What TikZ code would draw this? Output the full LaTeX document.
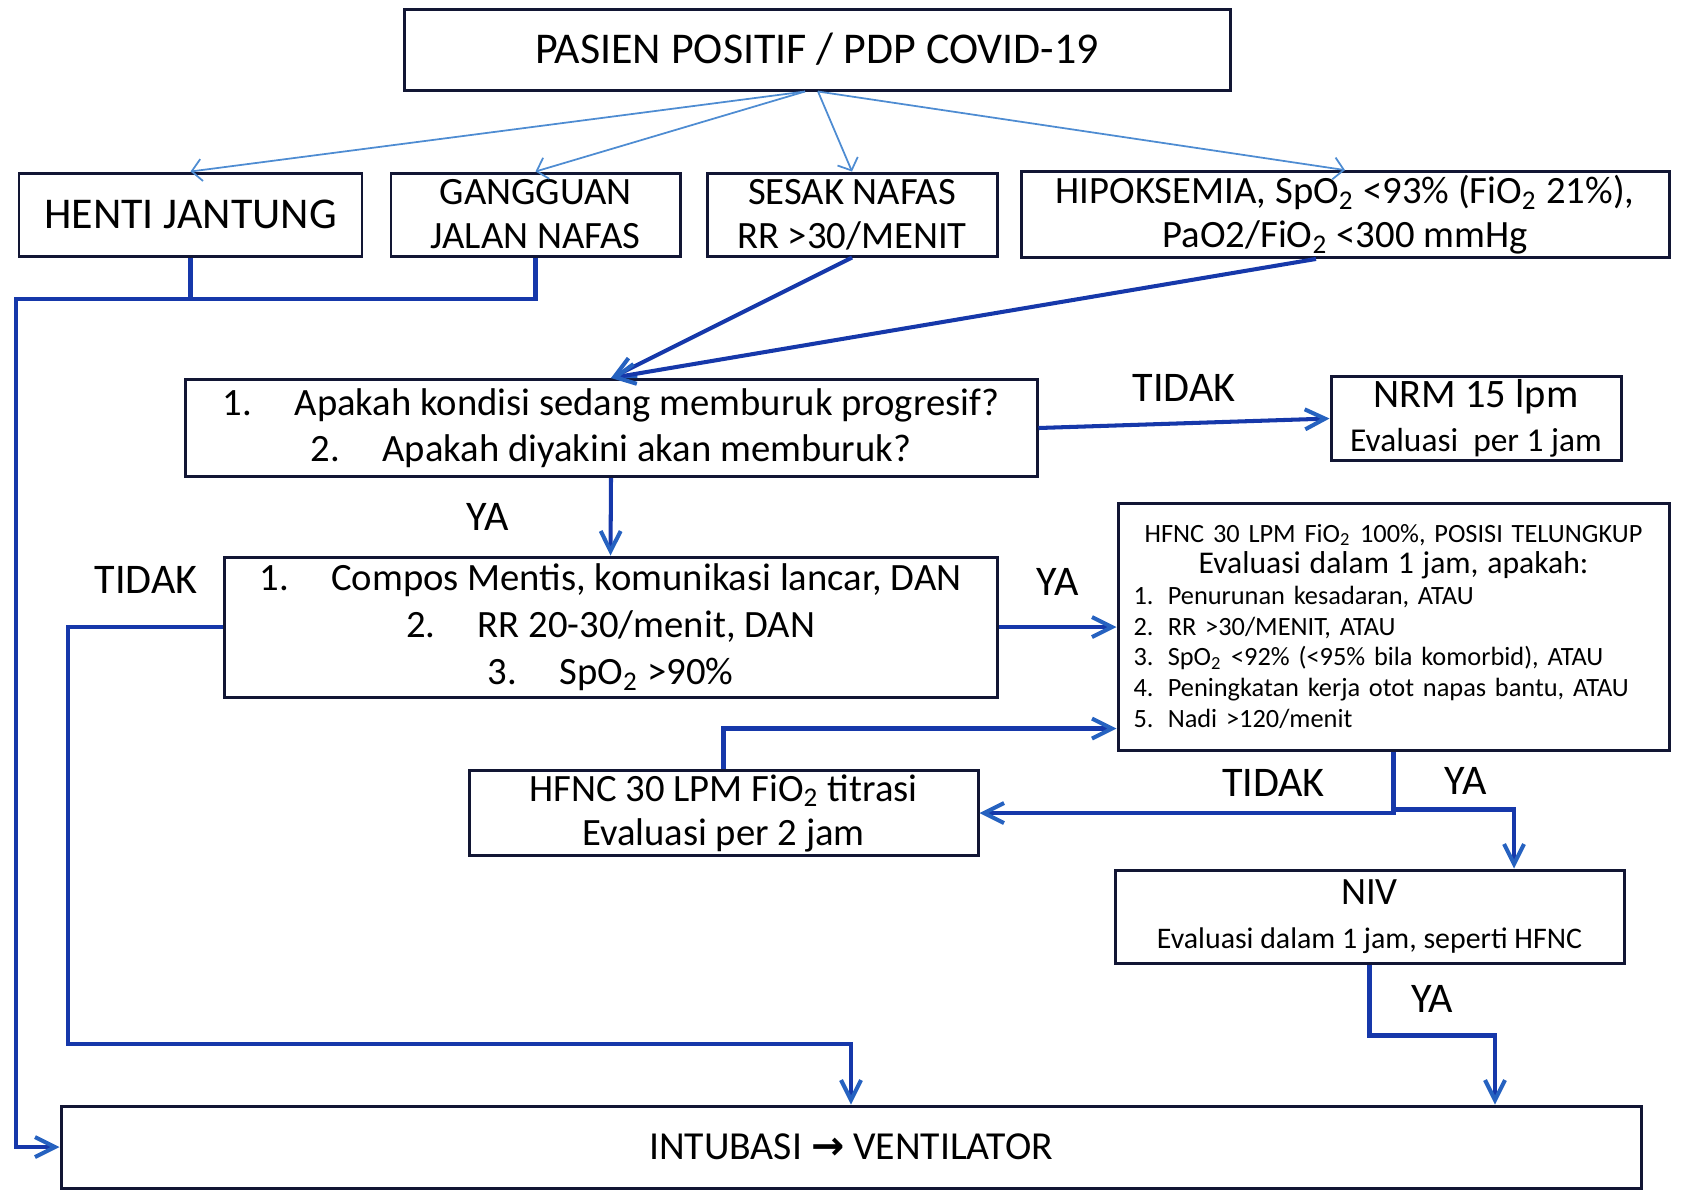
\documentclass[tikz,border=0pt]{standalone}
\usepackage{fontspec}
\setmainfont{Carlito}
\newfontfamily\arrowfont{DejaVu Sans}
\usetikzlibrary{positioning, arrows.meta}
\definecolor{flowblue}{RGB}{22,56,170}
\definecolor{tipblue}{RGB}{38,98,192}
\definecolor{fanblue}{RGB}{78,140,210}
\definecolor{boxline}{RGB}{18,22,52}
\tikzset{
  box/.style={
    rectangle,
    draw=boxline, line width=0.85pt,
    align=center, inner sep=1pt,
    font=\fontsize{11}{12.5}\selectfont
  },
  flow/.style={draw=flowblue, line width=1.15pt},
  fan/.style={draw=fanblue, line width=0.5pt, -{Straight Barb[length=1mm,width=2.2mm]}},
  lbl/.style={inner sep=0pt, font=\fontsize{12}{14}\selectfont}
}
\newcommand{\numgap}[1]{#1\hspace{1.1em}}
\newcommand{\hitem}[1]{\makebox[1.3em][l]{#1}}

\begin{document}
\begin{tikzpicture}[x=0.1mm, y=-0.1mm, >={Straight Barb[length=2mm,width=2mm,color=tipblue]}]
  \useasboundingbox (0,0) rectangle (1684,1190);

  \node[box, minimum width=82.6mm, minimum height=8.1mm, font=\fontsize{12.5}{14}\selectfont] (pasien) at (817,49.5) {PASIEN POSITIF / PDP COVID-19};

  \node[box, minimum width=34.3mm, minimum height=8.3mm, font=\fontsize{12.5}{14}\selectfont] (henti) at (190.5,214.5) {HENTI JANTUNG};
  \node[box, minimum width=28.9mm, minimum height=8.3mm] (gangguan) at (535.5,214.5) {GANGGUAN\\JALAN NAFAS};
  \node[box, minimum width=29mm, minimum height=8.3mm] (sesak) at (852,214.5) {SESAK NAFAS\\RR >30/MENIT};
  \node[box, minimum width=64.8mm, minimum height=8.3mm] (hipo) at (1345,214.5)
    {HIPOKSEMIA, SpO\textsubscript{2} <93\% (FiO\textsubscript{2} 21\%),\\PaO2/FiO\textsubscript{2} <300 mmHg};

  \node[box, minimum width=85.2mm, minimum height=9.7mm, font=\fontsize{11}{13}\selectfont] (apakah) at (611,428)
    {\numgap{1.}Apakah kondisi sedang memburuk progresif?\\\numgap{2.}Apakah diyakini akan memburuk?};
  \node[box, minimum width=29mm, minimum height=8.3mm] (nrm) at (1476,418.5)
    {{\fontsize{11.5}{12.5}\selectfont NRM 15 lpm}\\{\fontsize{9.5}{11}\selectfont Evaluasi\ \ per 1 jam}};

  \node[box, minimum width=77.3mm, minimum height=14mm, font=\fontsize{11}{13.4}\selectfont] (compos) at (610.5,627)
    {\numgap{1.}Compos Mentis, komunikasi lancar, DAN\\\numgap{2.}RR 20-30/menit, DAN\\\numgap{3.}SpO\textsubscript{2} >90\%};

  \node[box, minimum width=55.1mm, minimum height=24.7mm, text width=52mm, align=left,
        font=\fontsize{7.5}{8.8}\selectfont] (hfnc) at (1393.5,626.5) {%
    \centering HFNC 30 LPM FiO\textsubscript{2} 100\%, POSISI TELUNGKUP\\
    {\fontsize{9}{10.5}\selectfont Evaluasi dalam 1 jam, apakah:}\par
    \raggedright
    \hitem{1.}Penurunan kesadaran, ATAU\\
    \hitem{2.}RR >30/MENIT, ATAU\\
    \hitem{3.}SpO\textsubscript{2} <92\% (<95\% bila komorbid), ATAU\\
    \hitem{4.}Peningkatan kerja otot napas bantu, ATAU\\
    \hitem{5.}Nadi >120/menit};

  \node[box, minimum width=50.9mm, minimum height=8.4mm] (titrasi) at (723.5,813)
    {HFNC 30 LPM FiO\textsubscript{2} titrasi\\Evaluasi per 2 jam};
  \node[box, minimum width=50.9mm, minimum height=9.3mm] (niv) at (1369.5,916.5)
    {NIV\\{\fontsize{8.5}{10}\selectfont Evaluasi dalam 1 jam, seperti HFNC}};

  \node[box, minimum width=158mm, minimum height=8.2mm, font=\fontsize{11.3}{13}\selectfont] (intubasi) at (851,1147)
    {INTUBASI {\arrowfont\bfseries →} VENTILATOR};

  \coordinate (rail) at (16,299);

  \draw[fan] ([xshift=-1.2mm]pasien.south) -- (henti.north);
  \draw[fan] ([xshift=-1.2mm]pasien.south) -- (gangguan.north);
  \draw[fan] ([xshift=0.1mm]pasien.south) -- (sesak.north);
  \draw[fan] ([xshift=0.1mm]pasien.south) -- (hipo.north);

  \draw[flow] (henti.south) -- (henti.south |- rail);
  \draw[flow,->] (gangguan.south) |- (rail) |- (intubasi.west);
  \draw[flow,->] (sesak.south) -- (apakah.north);
  \draw[flow,->] ([xshift=-2.9mm]hipo.south) -- (apakah.north);

  \draw[flow,->] (apakah.east) -- node[lbl, above=2mm] (tidakA) {TIDAK} (nrm.west);
  \draw[flow,->] (apakah.south) -- node[lbl, left=10mm] (yaA) {YA} (compos.north);

  \node[lbl] (tidakB) at (146,580) {TIDAK};
  \draw[flow,->] (compos.west) -| (68,1044) -| (intubasi.north);
  \draw[flow,->] (compos.east) -- node[lbl, above=3mm] (yaB) {YA} (compos.east -| hfnc.west);

  \draw[flow,->] (titrasi.north) |- ([yshift=2.3mm]hfnc.south west);
  \draw[flow,->] (hfnc.south) |- node[lbl, pos=0.645, above=1.5mm] (tidakC) {TIDAK} (titrasi.east);
  \draw[flow,->] ([yshift=-5.8mm]hfnc.south) -| node[lbl, pos=0.3, above=1.3mm] (yaC) {YA} ([xshift=14.45mm]niv.north);
  \draw[flow,->] (niv.south) -- ++(0,71) -| ([xshift=64.4mm]intubasi.north);
  \node[lbl] (yaD) at (1432,999) {YA};
\end{tikzpicture}
\end{document}
